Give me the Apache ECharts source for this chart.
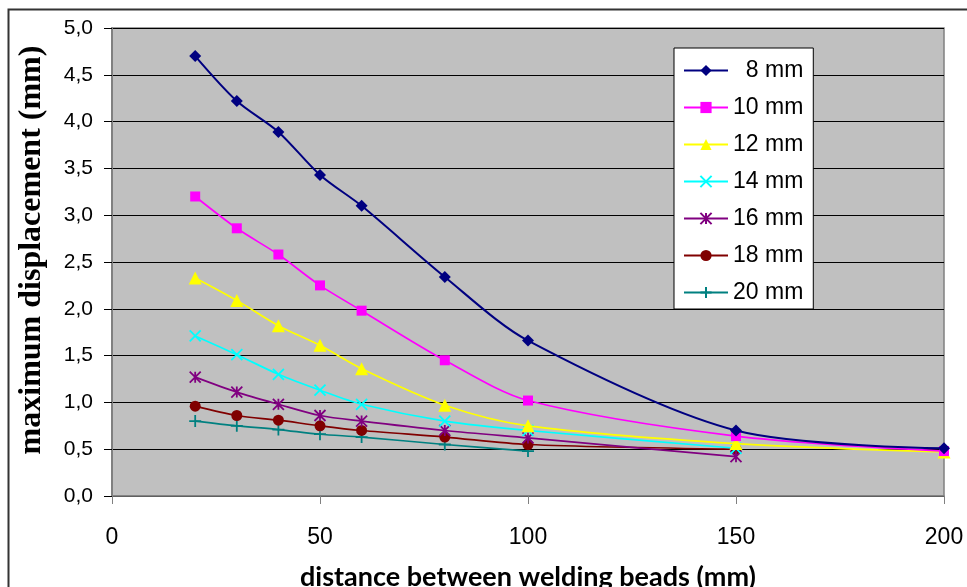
<!DOCTYPE html>
<html>
<head>
<meta charset="utf-8">
<script src="https://cdn.jsdelivr.net/npm/echarts@6/dist/echarts.min.js"></script>
<style>html,body{margin:0;padding:0;background:#fff;}#c{width:967px;height:587px;}</style>
</head>
<body>
<div id="c"></div>
<script>
var xDist = [20, 30, 40, 50, 60, 80, 100, 150, 200];
var names = ['\u20078 mm', '10 mm', '12 mm', '14 mm', '16 mm', '18 mm', '20 mm'];
var d8  = [4.70, 4.22, 3.89, 3.43, 3.10, 2.34, 1.66, 0.70, 0.51];
var d10 = [3.20, 2.86, 2.58, 2.25, 1.98, 1.45, 1.02, 0.64, 0.48];
var d12 = [2.33, 2.09, 1.82, 1.61, 1.36, 0.97, 0.75, 0.56, 0.47];
var d14 = [1.71, 1.51, 1.30, 1.13, 0.98, 0.80, 0.70, 0.51];
var d16 = [1.27, 1.11, 0.98, 0.86, 0.80, 0.70, 0.62, 0.42];
var d18 = [0.96, 0.86, 0.81, 0.75, 0.70, 0.63, 0.55, 0.50];
var d20 = [0.80, 0.75, 0.71, 0.66, 0.63, 0.55, 0.48];
var yTicks = ['0,0','0,5','1,0','1,5','2,0','2,5','3,0','3,5','4,0','4,5','5,0'];

var colors = ['#000080', '#FF00FF', '#FFFF00', '#00FFFF', '#800080', '#800000', '#008080'];
var symbols = ['diamond', 'rect', 'triangle',
  'path://M0,0L10,10M10,0L0,10',
  'path://M0,0L10,10M10,0L0,10M5,0L5,10',
  'circle',
  'path://M5,0L5,10M0,5L10,5'];
var sizes = [12, 10, 13, 11, 11, 11, 12];
var allData = [d8, d10, d12, d14, d16, d18, d20];

function pairs(arr) { return arr.map(function (v, i) { return [xDist[i], v]; }); }

var series = allData.map(function (arr, k) {
  var stroked = symbols[k].indexOf('path://') === 0;
  return {
    name: names[k],
    type: 'line',
    data: pairs(arr),
    smooth: 0.3,
    symbol: symbols[k],
    symbolSize: sizes[k],
    showAllSymbol: true,
    lineStyle: { color: colors[k], width: k === 0 ? 2 : 1.7 },
    itemStyle: stroked ? { color: colors[k], borderColor: colors[k], borderWidth: 1.8 } : { color: colors[k], borderWidth: 0 },
    emphasis: { disabled: true },
    z: 10 - k
  };
});

var chart = echarts.init(document.getElementById('c'), null, { renderer: 'canvas' });
chart.setOption({
  animation: false,
  backgroundColor: '#fff',
  graphic: [{
    type: 'rect', left: 6, top: 7, z: -1,
    shape: { x: 0, y: 0, width: 1000, height: 1000 },
    style: { fill: 'none', stroke: '#333', lineWidth: 2 }
  }],
  grid: { left: 112, right: 23, top: 28, bottom: 91, outerBoundsMode: 'none', containLabel: false,
    show: true, backgroundColor: '#C0C0C0', borderColor: '#808080', borderWidth: 1.5 },
  legend: {
    orient: 'vertical', left: 674, top: 48,
    backgroundColor: '#fff', borderColor: '#000', borderWidth: 1,
    padding: [11, 10, 5, 9],
    itemWidth: 44, itemHeight: 14, itemGap: 14,
    data: names,
    textStyle: { fontFamily: 'Liberation Sans, Arial, sans-serif', fontSize: 23, color: '#000', lineHeight: 21 }
  },
  xAxis: {
    type: 'value', min: 0, max: 200, interval: 50,
    name: 'distance between welding beads (mm)',
    nameLocation: 'middle', nameGap: 68,
    nameTextStyle: { fontFamily: 'Lato, Calibri, sans-serif', fontWeight: 'bold', fontSize: 27, color: '#000' },
    axisLine: { lineStyle: { color: '#808080', width: 1.5 } },
    axisTick: { show: true, length: 8, lineStyle: { color: '#808080', width: 1 } },
    axisLabel: { margin: 30, fontFamily: 'Liberation Sans Narrow, Liberation Sans, Arial, sans-serif', fontSize: 23, color: '#000' },
    splitLine: { show: false }
  },
  yAxis: {
    type: 'value', min: 0, max: 5, interval: 0.5,
    name: 'maximum displacement (mm)',
    nameLocation: 'middle', nameGap: 64,
    nameTextStyle: { fontFamily: 'Liberation Serif, Times New Roman, serif', fontWeight: 'bold', fontSize: 32, color: '#000', padding: [0, 0, 0, 24] },
    axisLine: { show: true, lineStyle: { color: '#808080', width: 2 } },
    axisTick: { show: true, length: 8, lineStyle: { color: '#000', width: 1 } },
    axisLabel: { margin: 19, fontFamily: 'Liberation Sans, Arial, sans-serif', fontSize: 21, color: '#000',
      formatter: function (v) { return yTicks[Math.round(v / 0.5)]; } },
    splitLine: { show: true, lineStyle: { color: '#000', width: 1 } }
  },
  series: series
});
</script>
</body>
</html>
